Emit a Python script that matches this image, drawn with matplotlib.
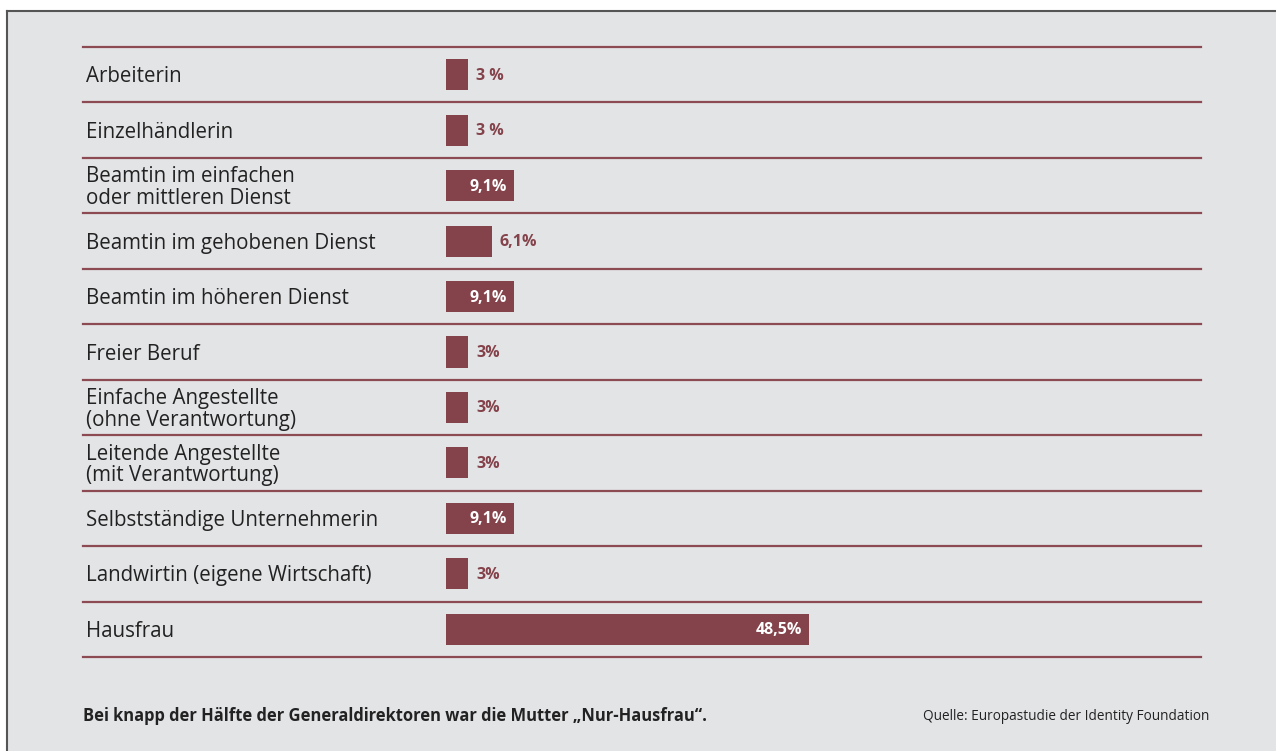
import matplotlib.pyplot as plt
from matplotlib.patches import Rectangle
import matplotlib.transforms as mtransforms

categories = [
    "Arbeiterin",
    "Einzelhändlerin",
    "Beamtin im einfachen\noder mittleren Dienst",
    "Beamtin im gehobenen Dienst",
    "Beamtin im höheren Dienst",
    "Freier Beruf",
    "Einfache Angestellte\n(ohne Verantwortung)",
    "Leitende Angestellte\n(mit Verantwortung)",
    "Selbstständige Unternehmerin",
    "Landwirtin (eigene Wirtschaft)",
    "Hausfrau",
]
values = [3.0, 3.0, 9.1, 6.1, 9.1, 3.0, 3.0, 3.0, 9.1, 3.0, 48.5]
value_labels = ["3 %", "3 %", "9,1%", "6,1%", "9,1%", "3%", "3%", "3%", "9,1%", "3%", "48,5%"]

footnote = "Bei knapp der Hälfte der Generaldirektoren war die Mutter „Nur-Hausfrau“."
source = "Quelle: Europastudie der Identity Foundation"

BAR = "#84424a"
LINE = "#8c4b53"
BG = "#e3e4e6"
TEXT = "#222222"

plt.rcParams['font.family'] = ['Open Sans', 'DejaVu Sans']

W, H = 1276, 751
fig = plt.figure(figsize=(W / 100, H / 100), dpi=100)
fig.patch.set_facecolor("white")

# grey panel with a dark frame on top and left
fig.patches.append(Rectangle((7 / W, 0), 1, 1 - 11 / H, transform=fig.transFigure,
                             facecolor=BG, edgecolor="none", zorder=-5))
fig.lines.append(plt.Line2D([7 / W, 1], [1 - 11 / H, 1 - 11 / H], transform=fig.transFigure,
                            color="#555555", lw=1.5, zorder=-4))
fig.lines.append(plt.Line2D([7 / W, 7 / W], [0, 1 - 11 / H], transform=fig.transFigure,
                            color="#555555", lw=1.5, zorder=-4))

# axes spans the row rules; bars start at x=446 px
left_px, right_px, top_px, bottom_px = 83, 1201, 47, 657
ax = fig.add_axes([left_px / W, 1 - bottom_px / H, (right_px - left_px) / W, (bottom_px - top_px) / H])
ax.set_facecolor("none")
px_per_pct = 7.48
ax.set_xlim(-(446 - left_px) / px_per_pct, (right_px - 446) / px_per_pct)
n = len(categories)
ax.set_ylim(n - 0.5, -0.5)
ax.axis("off")

ys = list(range(n))
ax.barh(ys, values, height=0.56, color=BAR, zorder=2)

for b in range(n + 1):
    ax.axhline(b - 0.5, color=LINE, lw=1.6, clip_on=False, zorder=1)

lab_tr = mtransforms.blended_transform_factory(ax.transAxes, ax.transData)
for y, cat in zip(ys, categories):
    ax.annotate(cat, (0.003, y), xycoords=lab_tr, xytext=(0, -2), textcoords="offset pixels",
                ha="left", va="center", fontsize=14.8, color=TEXT, linespacing=1.05)

for y, v, lab in zip(ys, values, value_labels):
    if v >= 9:
        ax.annotate(lab, (v, y), xytext=(-7, -1), textcoords="offset pixels",
                    ha="right", va="center", fontsize=11.5, fontweight="bold", color="white", zorder=3)
    else:
        ax.annotate(lab, (v, y), xytext=(8, -1), textcoords="offset pixels",
                    ha="left", va="center", fontsize=11.5, fontweight="bold", color=BAR, zorder=3)

fig.text(83 / W, 1 - 716 / H, footnote, ha="left", va="center",
         fontsize=11.9, fontweight="bold", color=TEXT)
fig.text(1209 / W, 1 - 716 / H, source, ha="right", va="center",
         fontsize=9.8, color=TEXT)

fig.savefig("out.png", dpi=100, facecolor=fig.get_facecolor())
